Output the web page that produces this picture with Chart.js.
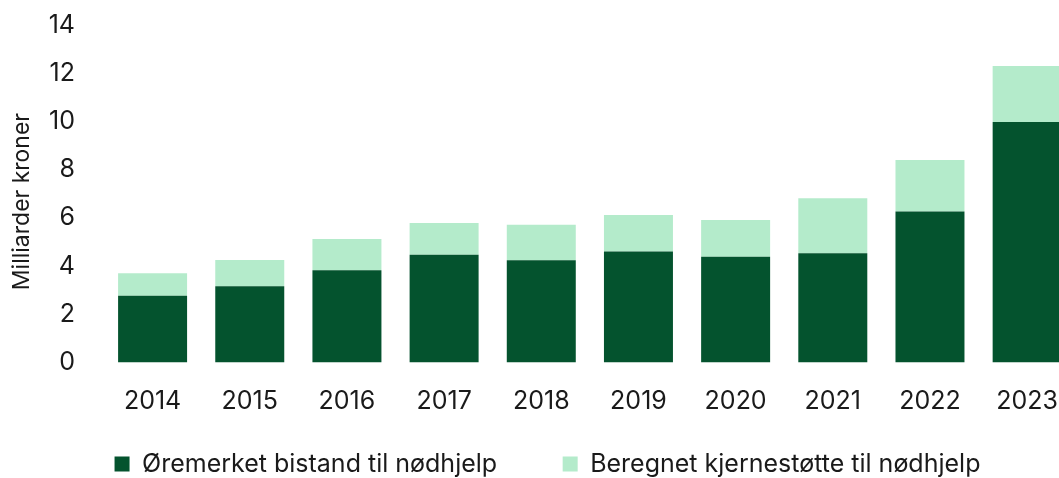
<!DOCTYPE html>
<html lang="no">
<head>
<meta charset="utf-8">
<script src="https://cdn.jsdelivr.net/npm/chart.js@4/dist/chart.umd.min.js"></script>
<style>
    html, body { margin: 0; padding: 0; background: #fff; overflow: hidden; }
    #wrap { position: relative; width: 1082px; height: 478px; }
</style>
</head>
<body>
<div id="wrap"><canvas id="aidChart"></canvas></div>
<script>
// Data
const years = ['2014', '2015', '2016', '2017', '2018', '2019', '2020', '2021', '2022', '2023'];
const earmarked = [2.77, 3.16, 3.83, 4.47, 4.24, 4.60, 4.39, 4.53, 6.26, 9.98];
const coreSupport = [0.93, 1.09, 1.29, 1.32, 1.47, 1.52, 1.52, 2.28, 2.14, 2.32];
const yTicks = [0, 2, 4, 6, 8, 10, 12, 14];

const seriesNames = ['Øremerket bistand til nødhjelp', 'Beregnet kjernestøtte til nødhjelp'];
const yTitle = 'Milliarder kroner';

const darkGreen = '#04532e';
const lightGreen = '#b4ebcb';
const textColor = '#1a1a1a';
const fontFamily = "Inter, 'Liberation Sans', Arial, sans-serif";

Chart.defaults.font.family = fontFamily;
Chart.defaults.color = textColor;

// left padding nudges the centred legend to the right, y axis keeps plot left at 104px
const leftPad = 13;

function initializeChart() {
    const ctx = document.getElementById('aidChart').getContext('2d');
    new Chart(ctx, {
        type: 'bar',
        data: {
            labels: years,
            datasets: [{
                label: seriesNames[0],
                data: earmarked,
                backgroundColor: darkGreen,
                borderWidth: 0
            }, {
                label: seriesNames[1],
                data: coreSupport,
                backgroundColor: lightGreen,
                borderWidth: 0
            }]
        },
        options: {
            responsive: true,
            maintainAspectRatio: false,
            animation: false,
            datasets: {
                bar: { categoryPercentage: 1, barPercentage: 0.71 }
            },
            layout: { padding: { top: 25, left: leftPad, right: 0, bottom: 0 } },
            plugins: {
                tooltip: { enabled: false },
                legend: {
                    position: 'bottom',
                    maxHeight: 62.5,
                    labels: {
                        font: { size: 25 },
                        boxWidth: 15,
                        boxHeight: 15,
                        padding: 36,
                        // wider gap after the first item, like the original legend
                        generateLabels: chart => {
                            const items = Chart.defaults.plugins.legend.labels.generateLabels(chart);
                            items[0].text += '\u2003\u2009';
                            return items;
                        }
                    }
                }
            },
            scales: {
                x: {
                    stacked: true,
                    grid: { display: false, drawTicks: false },
                    border: { display: false },
                    ticks: { font: { size: 25 }, padding: 24, maxRotation: 0 },
                    afterFit: scale => { scale.height = 53; }
                },
                y: {
                    stacked: true,
                    min: yTicks[0],
                    max: yTicks[yTicks.length - 1],
                    grid: { display: false, drawTicks: false },
                    border: { display: false },
                    afterBuildTicks: scale => {
                        scale.ticks = yTicks.map(v => ({ value: v }));
                    },
                    ticks: { font: { size: 25 }, padding: 29 },
                    title: {
                        display: true,
                        // trailing spaces push the rotated title a little lower
                        text: yTitle + '\u2002\u2009',
                        font: { size: 23 },
                        padding: { top: 22 - leftPad - 13.8, bottom: 0 }
                    },
                    afterFit: scale => {
                        scale.width = 104 - leftPad;
                        scale.paddingTop = 0;
                        scale.paddingBottom = 0;
                    }
                }
            }
        }
    });
}

initializeChart();
</script>
</body>
</html>
